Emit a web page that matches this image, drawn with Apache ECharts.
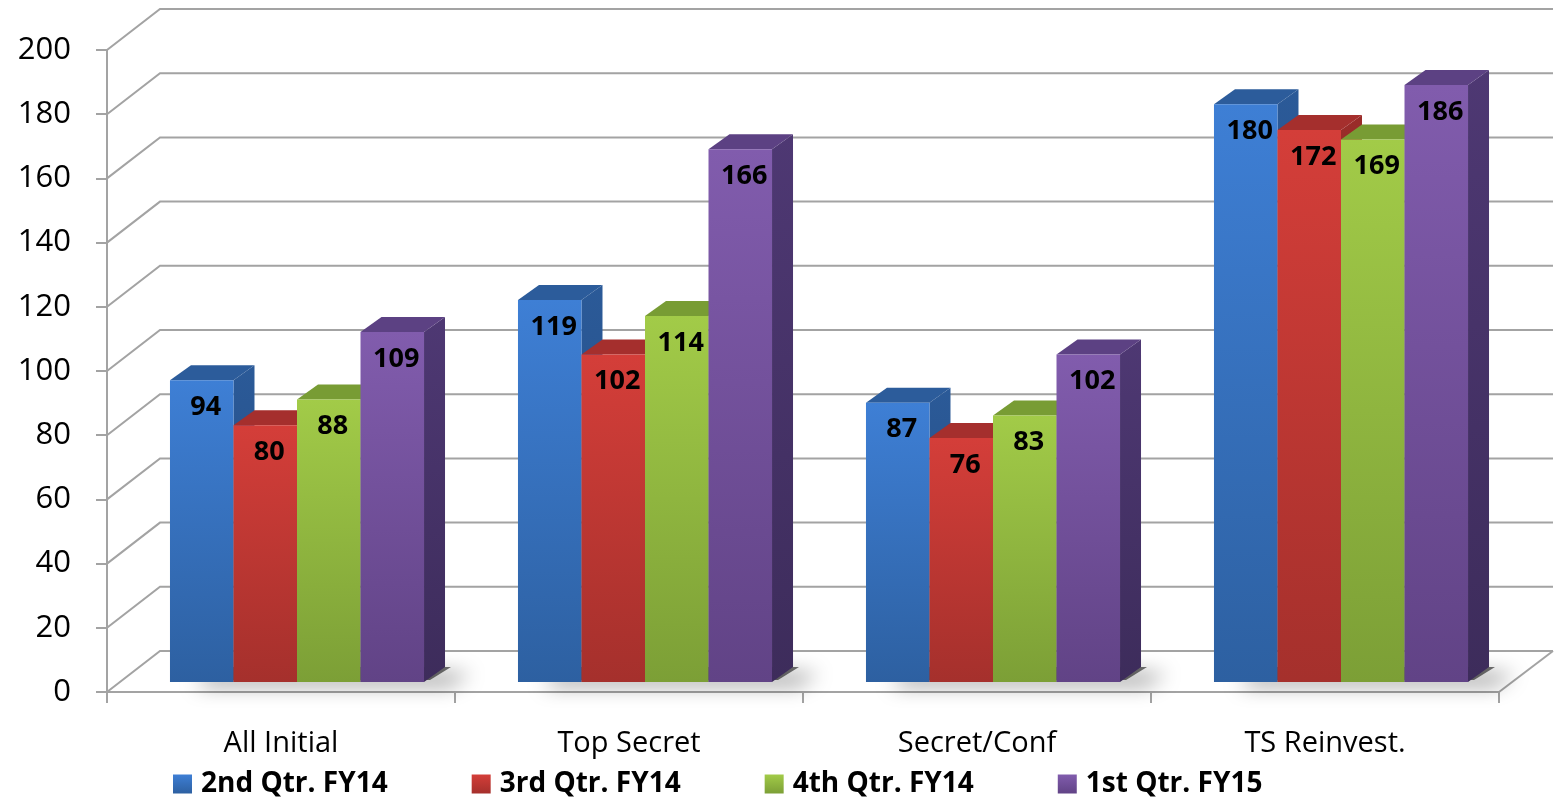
<!DOCTYPE html>
<html>
<head>
<meta charset="utf-8">
<script src="https://cdn.jsdelivr.net/npm/echarts@6/dist/echarts.min.js"></script>
<style>
  html, body { margin: 0; padding: 0; background: #ffffff; }
  #chart { width: 1554px; height: 798px; }
</style>
</head>
<body>
<div id="chart"></div>
<script>
// Investigation case counts by type, four quarters
const categories = ['All Initial', 'Top Secret', 'Secret/Conf', 'TS Reinvest.'];
const seriesNames = ['2nd Qtr. FY14', '3rd Qtr. FY14', '4th Qtr. FY14', '1st Qtr. FY15'];
const q2FY14 = [94, 119, 87, 180];
const q3FY14 = [80, 102, 76, 172];
const q4FY14 = [88, 114, 83, 169];
const q1FY15 = [109, 166, 102, 186];
const yTicks = [0, 20, 40, 60, 80, 100, 120, 140, 160, 180, 200];

const seriesValues = [q2FY14, q3FY14, q4FY14, q1FY15];

// face colours: front (top, bottom of gradient), top face, side face
const palettes = [
  { front: ['#3e7fd5', '#2d60a1'], top: '#2c5c9b', side: ['#2b5a98', '#234a7e'] },
  { front: ['#d43e39', '#a5302c'], top: '#a52f2d', side: ['#9a2c29', '#7e2422'] },
  { front: ['#a2cb48', '#7c9f36'], top: '#789c34', side: ['#6f8f2f', '#5b7627'] },
  { front: ['#815cad', '#614386'], top: '#5c4183', side: ['#4e3873', '#3d2c5b'] }
];

// pseudo-3D projection constants (pixels)
const WALL_DX = 53, WALL_DY = 41;      // depth of the walls/floor
const PLANE_DX = 16, PLANE_DY = 10;    // where the bar fronts sit inside the floor
const BOX_DX = 21, BOX_DY = 15;        // depth of each bar box
const BAR_FRAC = 0.1825;               // bar width as a share of the category band
const FONT = '"Open Sans", "Liberation Sans", sans-serif';

function grad(c) {
  return new echarts.graphic.LinearGradient(0, 0, 0, 1, [
    { offset: 0, color: c[0] }, { offset: 1, color: c[1] }
  ]);
}

// back wall, left wall and floor lines
function renderWalls(params, api) {
  const cs = params.coordSys;
  const v = api.value(0);
  const y = api.coord([0, v])[1];
  const x0 = cs.x;
  const children = [{
    type: 'polyline',
    shape: { points: [[x0, y], [x0 + WALL_DX, y - WALL_DY], [x0 + cs.width + WALL_DX + 1, y - WALL_DY]] },
    style: { stroke: '#a3a3a3', lineWidth: 2, fill: null }
  }];
  if (v === 0) {
    children.push({
      type: 'line',
      shape: { x1: x0 + cs.width, y1: y, x2: x0 + cs.width + WALL_DX + 1, y2: y - WALL_DY },
      style: { stroke: '#a3a3a3', lineWidth: 2 }
    });
  }
  return { type: 'group', children: children };
}

function groupSpan(api, c) {
  const base = api.coord([c, 0]);
  const w = api.size([1, 0])[0] * BAR_FRAC;
  const cx = base[0] + PLANE_DX;
  return { x0: cx - 2 * w, x1: cx + 2 * w, w: w, cx: cx, yb: base[1] - PLANE_DY };
}

// soft floor shadow under each group of bars
function renderShadow(params, api) {
  const g = groupSpan(api, api.value(0));
  return {
    type: 'polygon',
    shape: { points: [[g.x0 + 4, g.yb - 2], [g.x1 + 6, g.yb - 2], [g.x1 + BOX_DX + 6, g.yb - BOX_DY], [g.x0 + BOX_DX, g.yb - BOX_DY]] },
    style: {
      fill: 'rgba(0,0,0,0.55)',
      shadowBlur: 20,
      shadowColor: 'rgba(0,0,0,0.7)',
      shadowOffsetX: 20,
      shadowOffsetY: 6
    }
  };
}

function makeBarRenderer(si) {
  const pal = palettes[si];
  return function (params, api) {
    const c = api.value(0), v = api.value(1);
    const g = groupSpan(api, c);
    const x0 = g.x0 + si * g.w, x1 = x0 + g.w;
    const yb = g.yb;
    const yt = api.coord([c, v])[1] - PLANE_DY;
    return {
      type: 'group',
      children: [
        {
          type: 'polygon',
          shape: { points: [[x1, yb], [x1 + BOX_DX, yb - BOX_DY], [x1 + BOX_DX, yt - BOX_DY], [x1, yt]] },
          style: { fill: grad(pal.side) }
        },
        {
          type: 'polygon',
          shape: { points: [[x0, yt], [x0 + BOX_DX, yt - BOX_DY], [x1 + BOX_DX, yt - BOX_DY], [x1, yt]] },
          style: { fill: pal.top }
        },
        {
          type: 'rect',
          shape: { x: x0, y: yt, width: g.w, height: yb - yt },
          style: { fill: grad(pal.front) }
        },
        {
          type: 'text',
          style: {
            text: String(v),
            x: (x0 + x1) / 2 + 4,
            y: yt + 27,
            align: 'center',
            verticalAlign: 'middle',
            font: 'bold 27px ' + FONT,
            fill: '#000000'
          }
        }
      ]
    };
  };
}

const chart = echarts.init(document.getElementById('chart'), null, { renderer: 'canvas' });

const series = [
  {
    type: 'custom',
    name: 'walls',
    renderItem: renderWalls,
    data: yTicks.map(function (t) { return [t]; }),
    encode: { y: 0 },
    silent: true,
    z: 1
  },
  {
    type: 'custom',
    name: 'shadow',
    renderItem: renderShadow,
    data: categories.map(function (_, i) { return [i]; }),
    encode: { x: 0 },
    silent: true,
    z: 2
  }
];

seriesNames.forEach(function (name, si) {
  series.push({
    type: 'custom',
    name: name,
    renderItem: makeBarRenderer(si),
    data: seriesValues[si].map(function (v, i) { return [i, v]; }),
    encode: { x: 0, y: 1 },
    itemStyle: { color: grad(palettes[si].front) },
    z: 3
  });
});

chart.setOption({
  animation: false,
  backgroundColor: '#ffffff',
  grid: { left: 107, right: 55, top: 50, bottom: 106, containLabel: false },
  xAxis: {
    type: 'category',
    data: categories,
    axisLine: { show: true, lineStyle: { color: '#a3a3a3', width: 2 } },
    axisTick: { show: true, length: 11, lineStyle: { color: '#a3a3a3', width: 2 } },
    axisLabel: { color: '#000000', fontSize: 29, fontFamily: FONT, margin: 37 },
    splitLine: { show: false }
  },
  yAxis: {
    type: 'value',
    min: 0,
    max: 200,
    interval: 20,
    axisLine: { show: true, lineStyle: { color: '#a3a3a3', width: 2 } },
    axisTick: { show: true, length: 11, lineStyle: { color: '#a3a3a3', width: 2 } },
    axisLabel: { color: '#000000', fontSize: 31, fontFamily: FONT, margin: 36 },
    splitLine: { show: false }
  },
  legend: {
    data: seriesNames,
    left: 168,
    top: 765,
    icon: 'rect',
    itemWidth: 19,
    itemHeight: 19,
    itemGap: 84,
    textStyle: { color: '#000000', fontSize: 28, fontWeight: 'bold', fontFamily: FONT, padding: [0, 0, 0, 4] }
  },
  series: series
});
</script>
</body>
</html>
